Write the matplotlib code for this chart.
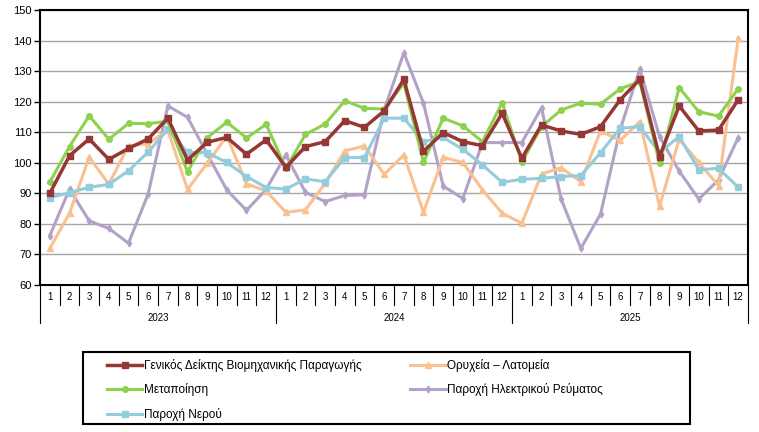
import numpy as np
import matplotlib.pyplot as plt
from matplotlib.patches import Rectangle

plt.rcParams['font.family'] = ['Liberation Sans Narrow', 'Liberation Sans', 'DejaVu Sans']

years = ["2023", "2024", "2025"]
months = [str(m) for m in range(1, 13)] * 3

general = [90.0, 102.3, 107.8, 101.1, 104.7, 107.8, 114.6, 100.9, 106.7, 108.3, 102.8, 107.5,
           98.5, 105.3, 106.9, 113.8, 111.6, 117.0, 127.3, 103.7, 109.9, 106.9, 105.6, 116.2,
           101.5, 112.4, 110.4, 109.3, 111.8, 120.6, 127.3, 102.0, 118.6, 110.4, 110.7, 120.6]
mining = [72.0, 83.5, 101.8, 93.0, 105.6, 106.2, 110.7, 91.3, 99.8, 108.8, 93.1, 90.8,
          83.8, 84.6, 93.3, 103.9, 105.5, 96.2, 102.6, 83.8, 101.8, 100.1, 91.1, 83.5,
          80.2, 96.3, 98.4, 93.8, 110.4, 107.3, 113.5, 85.7, 107.7, 100.1, 92.5, 140.7]
manuf = [93.7, 105.3, 115.4, 107.7, 112.9, 112.8, 113.6, 97.1, 108.2, 113.3, 108.1, 112.6,
         98.2, 109.3, 112.7, 120.3, 117.8, 117.6, 126.0, 100.1, 114.6, 112.1, 106.9, 119.7,
         100.2, 111.8, 117.3, 119.5, 119.2, 124.2, 126.6, 99.8, 124.6, 116.7, 115.3, 124.2]
elec = [76.2, 91.4, 81.0, 78.5, 73.7, 89.8, 118.6, 114.9, 102.9, 91.1, 84.4, 91.3,
        102.6, 90.3, 87.3, 89.3, 89.5, 117.3, 136.0, 119.5, 92.4, 88.3, 106.6, 106.6,
        106.6, 118.0, 88.1, 72.0, 83.2, 110.9, 130.7, 108.6, 97.3, 88.1, 94.4, 108.2]
water = [88.6, 90.2, 92.0, 92.9, 97.4, 103.5, 110.9, 103.4, 103.3, 100.1, 95.5, 91.9,
         91.4, 94.7, 93.8, 101.7, 101.7, 114.6, 114.6, 106.9, 108.3, 104.4, 99.3, 93.6,
         94.6, 94.9, 95.5, 95.8, 103.3, 111.3, 111.8, 103.3, 108.6, 97.7, 98.2, 92.0]

labels = ["Γενικός Δείκτης Βιομηχανικής Παραγωγής", "Ορυχεία – Λατομεία", "Μεταποίηση",
          "Παροχή Ηλεκτρικού Ρεύματος", "Παροχή Νερού"]

fig = plt.figure(figsize=(7.59, 4.32), dpi=100)
ax = fig.add_axes([40/759, 1 - 285/432, 708/759, 275/432])

x = np.arange(len(general))
l_gen, = ax.plot(x, general, color="#953735", lw=2.5, marker="s", ms=5, zorder=5)
l_min, = ax.plot(x, mining, color="#FAC090", lw=2.2, marker="^", ms=4, zorder=3)
l_man, = ax.plot(x, manuf, color="#8ED14F", lw=2.2, marker="o", ms=4, zorder=4)
l_ele, = ax.plot(x, elec, color="#B3A2C7", lw=2.2, marker="d", ms=3.5, zorder=2)
l_wat, = ax.plot(x, water, color="#93CDDD", lw=2.2, marker="s", ms=4.5, zorder=3)

ax.set_xlim(-0.5, 35.5)
ax.set_ylim(60, 150)
ax.set_yticks(range(60, 151, 10))
ax.tick_params(axis='y', labelsize=8, length=4, width=1, pad=2)
ax.set_xticks([])
ax.grid(axis='y', color="#A6A6A6", lw=1)
ax.set_axisbelow(True)
for s in ax.spines.values():
    s.set_linewidth(1.5)
    s.set_color("black")

# category axis: months and years
tr = ax.get_xaxis_transform()
for i, m in enumerate(months):
    ax.text(i, -0.043, m, transform=tr, ha='center', va='center', fontsize=7)
for b in range(37):
    if b % 12 == 0:
        ax.plot([b - 0.5, b - 0.5], [0, -0.138], transform=tr, color="black", lw=0.8, clip_on=False)
    else:
        ax.plot([b - 0.5, b - 0.5], [0, -0.073], transform=tr, color="black", lw=0.8, clip_on=False)
for k, y in enumerate(years):
    ax.text(12*k + 5.5, -0.12, y, transform=tr, ha='center', va='center', fontsize=7)

# legend box
fig.patches.append(Rectangle((83/759, 1 - 424/432), 607/759, 72/432, transform=fig.transFigure,
                             fill=False, edgecolor='black', lw=1.5))
handles = [l_gen, l_man, l_wat, l_min, l_ele]
names = [labels[0], labels[2], labels[4], labels[1], labels[3]]
leg = fig.legend(handles, names, ncol=2, loc='upper left',
                 bbox_to_anchor=(107/759, 1 - 359/432),
                 fontsize=8.5, frameon=False, borderpad=0, borderaxespad=0,
                 handlelength=3.0, handletextpad=0.15, columnspacing=4.1, labelspacing=0.97)

fig.savefig("out.png", dpi=100)
